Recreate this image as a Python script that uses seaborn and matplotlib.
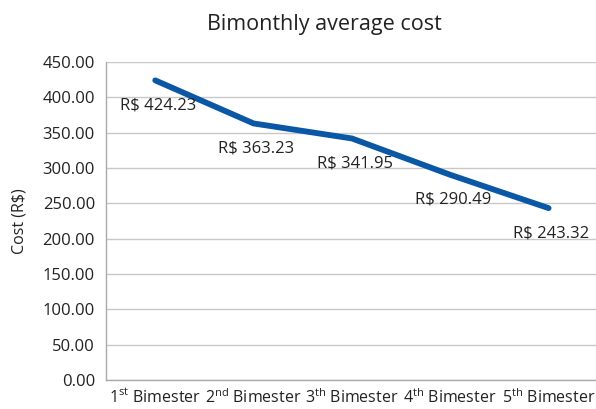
import matplotlib
matplotlib.use("Agg")
import matplotlib.pyplot as plt
import seaborn as sns
import pandas as pd

periods = ["1$^{st}$ Bimester", "2$^{nd}$ Bimester", "3$^{th}$ Bimester",
           "4$^{th}$ Bimester", "5$^{th}$ Bimester"]
costs = [424.23, 363.23, 341.95, 290.49, 243.32]
yticks = [0, 50, 100, 150, 200, 250, 300, 350, 400, 450]

df = pd.DataFrame({"period": periods, "cost": costs})

sns.set_theme(style="white")
plt.rcParams['font.family'] = ['Open Sans', 'DejaVu Sans']
plt.rcParams['mathtext.default'] = 'regular'

fig = plt.figure(figsize=(5.96, 4.09), dpi=100)
ax = fig.add_axes([0.178, 0.071, 0.825, 0.777])

sns.lineplot(data=df, x="period", y="cost", ax=ax, color="#0A58A5",
             linewidth=4.2, sort=False)

ax.set_xlim(-0.5, 4.5)
ax.set_ylim(0, 450)
ax.set_yticks(yticks)
ax.set_yticklabels([f"{v:.2f}" for v in yticks], fontsize=12, color="#222222")
ax.set_xticks(range(len(periods)))
ax.set_xticklabels(periods, fontsize=11.5, color="#222222")
ax.set_xticks([i - 0.5 for i in range(len(periods) + 1)], minor=True)
ax.tick_params(axis='x', which='major', length=0, pad=6)
ax.tick_params(axis='x', which='minor', length=5, color="#aaaaaa", width=1)
ax.tick_params(axis='y', length=0, pad=8)
ax.grid(axis='y', color="#c8c8c8", linewidth=1)
ax.set_axisbelow(True)

for side in ["top", "right"]:
    ax.spines[side].set_visible(False)
for side in ["left", "bottom"]:
    ax.spines[side].set_color("#aaaaaa")
    ax.spines[side].set_linewidth(1)

for i, c in enumerate(costs):
    ax.annotate(f"R$ {c:.2f}", (i, c), xytext=(2, -18), textcoords="offset points",
                ha="center", va="center", fontsize=12, color="#222222")

ax.set_xlabel("")
ax.set_ylabel("Cost (R$)", fontsize=11.5, color="#222222", labelpad=11)
fig.text(0.545, 0.941, "Bimonthly average cost", fontsize=15.5, color="#222222",
         ha="center", va="center")

fig.savefig("out.png", dpi=100)
